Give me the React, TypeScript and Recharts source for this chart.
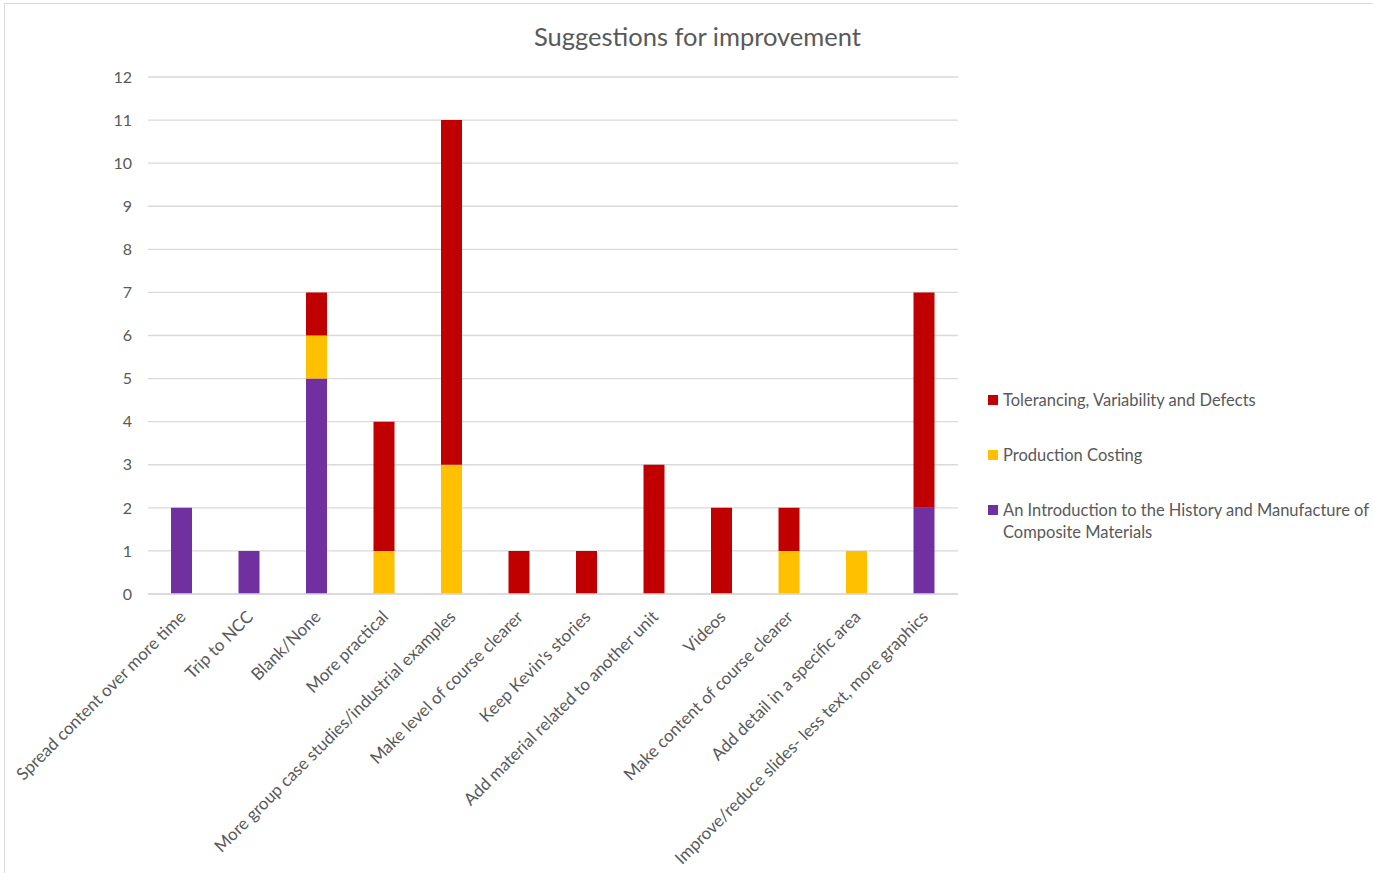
import { BarChart, Bar, XAxis, YAxis, CartesianGrid } from "recharts";

const CATEGORIES = [
  "Spread content over more time",
  "Trip to NCC",
  "Blank/None",
  "More practical",
  "More group case studies/industrial examples",
  "Make level of course clearer",
  "Keep Kevin's stories",
  "Add material related to another unit",
  "Videos",
  "Make content of course clearer",
  "Add detail in a specific area",
  "Improve/reduce slides- less text, more graphics",
];

const HISTORY = [2, 1, 5, 0, 0, 0, 0, 0, 0, 0, 0, 2];
const COSTING = [0, 0, 1, 1, 3, 0, 0, 0, 0, 1, 1, 0];
const TOLERANCING = [0, 0, 1, 3, 8, 1, 1, 3, 2, 1, 0, 5];

const Y_TICKS = [0, 1, 2, 3, 4, 5, 6, 7, 8, 9, 10, 11, 12];

const SERIES = [
  { key: "history", name: "An Introduction to the History and Manufacture of Composite Materials", color: "#7030A0" },
  { key: "costing", name: "Production Costing", color: "#FFC000" },
  { key: "tolerancing", name: "Tolerancing, Variability and Defects", color: "#C00000" },
];

const data = CATEGORIES.map((name, i) => ({
  name,
  history: HISTORY[i],
  costing: COSTING[i],
  tolerancing: TOLERANCING[i],
}));

const FONT = "Lato, 'Open Sans', sans-serif";
const TEXT = "#595959";

function XTick({ x, y, payload }: any) {
  return (
    <g transform={`translate(${x + 5},${y + 16})`}>
      <text
        x={0}
        y={0}
        textAnchor="end"
        transform="rotate(-45)"
        fill={TEXT}
        fontSize={17}
        fontFamily={FONT}
      >
        {payload.value}
      </text>
    </g>
  );
}

function LegendBox() {
  const items = [...SERIES].reverse();
  return (
    <div style={{ fontFamily: FONT, fontSize: 16.5, color: TEXT }}>
      {items.map((s) => (
        <div
          key={s.key}
          style={{ display: "flex", alignItems: "flex-start", marginBottom: 33, width: 385, lineHeight: "22px" }}
        >
          <span
            style={{
              width: 10,
              height: 10,
              background: s.color,
              marginTop: 6,
              marginRight: 5,
              flexShrink: 0,
            }}
          />
          <span>{s.name}</span>
        </div>
      ))}
    </div>
  );
}

export default function App() {
  return (
    <div style={{ position: "fixed", left: 0, top: 0, width: 1373, height: 873, background: "#fff" }}>
      <div
        style={{
          position: "absolute",
          left: 4,
          top: 3,
          width: 1400,
          height: 900,
          border: "1px solid #d9d9d9",
        }}
      />
      <div
        style={{
          position: "absolute",
          left: 0,
          width: 1395,
          top: 21,
          textAlign: "center",
          fontFamily: FONT,
          fontSize: 25.5,
          color: TEXT,
        }}
      >
        Suggestions for improvement
      </div>
      <div style={{ position: "absolute", left: 0, top: 0 }}>
        <BarChart
          width={1373}
          height={873}
          data={data}
          margin={{ top: 77, right: 415, left: 108, bottom: 79 }}
        >
          <CartesianGrid vertical={false} stroke="#d9d9d9" strokeWidth={1.3} />
          <XAxis
            dataKey="name"
            axisLine={{ stroke: "#d9d9d9", strokeWidth: 1.3 }}
            tickLine={false}
            interval={0}
            tick={<XTick />}
            height={200}
          />
          <YAxis
            width={40}
            domain={[0, 12]}
            ticks={Y_TICKS}
            interval={0}
            axisLine={false}
            tickLine={false}
            tickMargin={10}
            tick={{ fill: TEXT, fontSize: 16, fontFamily: FONT }}
          />
          {SERIES.map((s) => (
            <Bar
              key={s.key}
              dataKey={s.key}
              name={s.name}
              stackId="a"
              fill={s.color}
              barSize={21}
              isAnimationActive={false}
            />
          ))}
        </BarChart>
      </div>
      <div style={{ position: "absolute", left: 988, top: 389 }}>
        <LegendBox />
      </div>
    </div>
  );
}
